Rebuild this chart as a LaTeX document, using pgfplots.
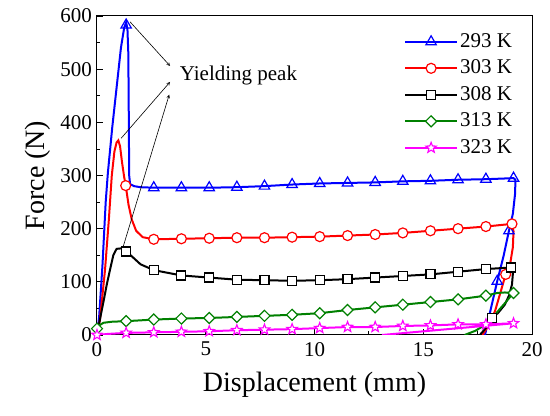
\documentclass[border=0pt]{standalone}
\usepackage{pgfplots}
\pgfplotsset{compat=1.18}
\usepackage{fontspec}
\setmainfont{Liberation Serif}
\definecolor{cblue}{RGB}{0,0,255}
\definecolor{cred}{RGB}{255,0,0}
\definecolor{cgreen}{RGB}{0,128,0}
\definecolor{cmag}{RGB}{255,0,255}
\pgfdeclareplotmark{ostar}{%
  \pgfpathmoveto{\pgfpointpolar{90}{\pgfplotmarksize}}%
  \pgfpathlineto{\pgfpointpolar{126}{0.42\pgfplotmarksize}}%
  \pgfpathlineto{\pgfpointpolar{162}{\pgfplotmarksize}}%
  \pgfpathlineto{\pgfpointpolar{198}{0.42\pgfplotmarksize}}%
  \pgfpathlineto{\pgfpointpolar{234}{\pgfplotmarksize}}%
  \pgfpathlineto{\pgfpointpolar{270}{0.42\pgfplotmarksize}}%
  \pgfpathlineto{\pgfpointpolar{306}{\pgfplotmarksize}}%
  \pgfpathlineto{\pgfpointpolar{342}{0.42\pgfplotmarksize}}%
  \pgfpathlineto{\pgfpointpolar{18}{\pgfplotmarksize}}%
  \pgfpathlineto{\pgfpointpolar{54}{0.42\pgfplotmarksize}}%
  \pgfpathclose
  \pgfusepathqfillstroke}
\begin{document}
\begin{tikzpicture}
\begin{axis}[
  name=ax,
  scale only axis, width=435pt, height=319pt,
  xmin=0, xmax=20, ymin=0, ymax=600,
  xtick={0,5,...,20}, ytick={0,100,...,600},
  minor x tick num=1, minor y tick num=1,
  tick align=inside, tick pos=left,
  major tick length=6pt, minor tick length=3.5pt,
  every tick/.style={black, line width=0.8pt},
  axis line style={line width=1pt},
  /pgf/number format/assume math mode=true,
  ticklabel style={font=\fontsize{21}{21}\selectfont},
  xticklabel style={inner sep=0pt, yshift=-7pt},
  yticklabel style={inner sep=0pt, xshift=-5pt},
  xlabel={Displacement (mm)}, ylabel={Force (N)},
  every axis x label/.style={at={(axis description cs:0.5,-0.155)}, anchor=center, font=\fontsize{28}{28}\selectfont},
  every axis y label/.style={at={(axis description cs:-0.1356,0.5)}, anchor=center, rotate=90, font=\fontsize{28}{28}\selectfont},
  legend style={draw=none, fill=none, at={(axis description cs:0.966,0.962)}, anchor=north east,
    font=\fontsize{21}{21}\selectfont, row sep=3.5pt,
    nodes={inner sep=2pt, text height=15pt, text depth=4pt}},
  legend cell align=left,
  legend image code/.code={\draw[mark repeat=2,mark phase=2] plot coordinates {(0pt,0pt)(26pt,0pt)(52pt,0pt)};},
]
% ---- 293 K
\addplot[cblue, line width=2pt, forget plot] coordinates {
(0,0)(0.1,35)(0.25,130)(0.4,250)(0.5,305)(0.7,390)(0.86,450)(1.1,540)(1.25,578)(1.34,588)(1.4,575)(1.44,530)(1.46,420)(1.48,300)(1.52,284)(1.7,280)(2.0,278)(2.61,277)(3.88,277)(5.16,277)(6.43,278)(7.70,280)(8.97,283)(10.24,285)(11.52,286)(12.79,287)(14.06,289)(15.33,290)(16.60,292)(17.88,293)(19.15,295)(19.24,292)(19.22,265)(19.12,228)(18.94,196)(18.7,150)(18.4,101)(18.1,48)(17.84,0)};
\addplot[cblue, only marks, mark=triangle, mark size=6pt, mark options={solid, fill=white, line width=1.2pt}, forget plot] coordinates {
(1.34,583)(2.61,277)(3.88,277)(5.16,277)(6.43,278)(7.70,280)(8.97,283)(10.24,285)(11.52,286)(12.79,287)(14.06,289)(15.33,290)(16.60,292)(17.88,293)(19.15,295)(18.94,196)(18.4,101)};
% ---- 303 K
\addplot[cred, line width=2pt, forget plot] coordinates {
(0,0)(0.14,30)(0.37,123)(0.55,220)(0.68,300)(0.8,345)(0.9,362)(0.98,366)(1.06,355)(1.15,325)(1.25,297)(1.32,281)(1.45,245)(1.6,217)(1.8,196)(2.1,184)(2.61,180)(3.88,181)(5.16,182)(6.43,183)(7.70,183)(8.97,184)(10.24,185)(11.52,187)(12.79,189)(14.06,192)(15.33,196)(16.60,200)(17.88,204)(19.08,209)(19.15,195)(19.12,165)(19.0,135)(18.79,114)(18.55,80)(18.3,45)(18.0,18)(17.72,0)};
\addplot[cred, only marks, mark=*, mark size=5pt, mark options={solid, fill=white, line width=1.2pt}, forget plot] coordinates {
(1.32,281)(2.61,180)(3.88,181)(5.16,182)(6.43,183)(7.70,183)(8.97,184)(10.24,185)(11.52,187)(12.79,189)(14.06,192)(15.33,196)(16.60,200)(17.88,204)(19.08,209)(18.79,114)};
% ---- 308 K
\addplot[black, line width=2pt, forget plot] coordinates {
(0,0)(0.1,22)(0.29,61)(0.45,95)(0.6,123)(0.75,150)(0.9,162)(1.13,163)(1.34,157)(1.6,148)(2.0,133)(2.61,122)(3.88,112)(5.16,108)(6.43,104)(7.70,103)(8.97,102)(10.24,103)(11.52,105)(12.79,108)(14.06,111)(15.33,114)(16.60,119)(17.88,124)(19.05,127)(19.12,115)(19.08,95)(18.95,75)(18.75,57)(18.45,42)(18.17,32)(17.9,14)(17.6,0)};
\addplot[black, only marks, mark=square*, mark size=4.5pt, mark options={solid, fill=white, line width=1.2pt}, forget plot] coordinates {
(1.34,157)(2.61,122)(3.88,112)(5.16,108)(6.43,104)(7.70,103)(8.97,102)(10.24,103)(11.52,105)(12.79,108)(14.06,111)(15.33,114)(16.60,119)(17.88,124)(19.05,127)(18.17,32)};
% ---- 313 K
\addplot[cgreen, line width=2pt, forget plot] coordinates {
(0,12)(0.1,18)(0.3,23)(0.7,25)(1.34,26)(2.61,29)(3.88,31)(5.16,32)(6.43,34)(7.70,36)(8.97,38)(10.24,41)(11.52,47)(12.79,52)(14.06,57)(15.33,62)(16.60,67)(17.88,74)(18.4,79)(18.75,80)(19.15,79)(19.0,72)(18.8,62)(18.5,48)(18.2,33)(17.8,18)(17.4,8)(16.9,0)};
\addplot[cgreen, only marks, mark=square*, mark size=3.9pt, mark options={solid, rotate=45, fill=white, line width=1.2pt}, forget plot] coordinates {
(0,12)(1.34,26)(2.61,29)(3.88,31)(5.16,32)(6.43,34)(7.70,36)(8.97,38)(10.24,41)(11.52,47)(12.79,52)(14.06,57)(15.33,62)(16.60,67)(17.88,74)(19.15,79)};
% ---- 323 K
\addplot[cmag, line width=2pt, forget plot] coordinates {
(0,0)(0.5,2)(1.34,4)(2.61,5)(3.88,6)(5.16,7)(6.43,9)(7.70,10)(8.97,11)(10.24,13)(11.52,15)(12.79,15)(14.06,17)(15.33,18)(16.60,20)(17.88,20)(19.15,22)(13.1,0)};
\addplot[cmag, only marks, mark=ostar, mark size=5.5pt, mark options={solid, fill=white, line width=1.1pt}, forget plot] coordinates {
(0,0)(1.34,4)(2.61,5)(3.88,6)(5.16,7)(6.43,9)(7.70,10)(8.97,11)(10.24,13)(11.52,15)(12.79,15)(14.06,17)(15.33,18)(16.60,20)(17.88,20)(19.15,22)};
% ---- legend
\addlegendimage{cblue, line width=2pt, mark=triangle, mark size=6pt, mark options={solid, fill=white, line width=1.2pt}}
\addlegendentry{293 K}
\addlegendimage{cred, line width=2pt, mark=*, mark size=5pt, mark options={solid, fill=white, line width=1.2pt}}
\addlegendentry{303 K}
\addlegendimage{black, line width=2pt, mark=square*, mark size=4.5pt, mark options={solid, fill=white, line width=1.2pt}}
\addlegendentry{308 K}
\addlegendimage{cgreen, line width=2pt, mark=square*, mark size=3.9pt, mark options={solid, rotate=45, fill=white, line width=1.2pt}}
\addlegendentry{313 K}
\addlegendimage{cmag, line width=2pt, mark=ostar, mark size=5.5pt, mark options={solid, fill=white, line width=1.1pt}}
\addlegendentry{323 K}
% ---- annotation
\draw[-stealth, line width=0.6pt] (axis cs:1.52,589) -- (axis cs:3.36,506);
\draw[-stealth, line width=0.6pt] (axis cs:1.11,370) -- (axis cs:3.36,476);
\draw[-stealth, line width=0.6pt] (axis cs:1.21,167) -- (axis cs:3.32,452);
\node[anchor=west, inner sep=0pt, font=\fontsize{21}{21}\selectfont] at (axis cs:3.8,489) {Yielding peak};
\end{axis}
\path ([shift={(-97pt,-80.5pt)}]ax.south west) rectangle ([shift={(18pt,16pt)}]ax.north east);
\end{tikzpicture}
\end{document}
